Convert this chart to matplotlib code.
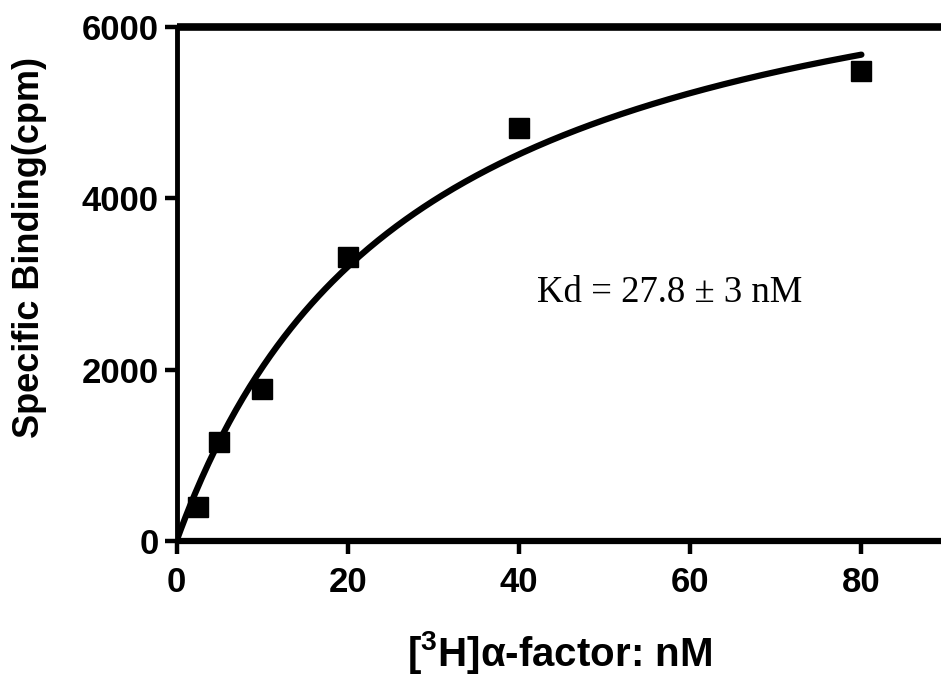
import numpy as np
import matplotlib
matplotlib.use("Agg")
import matplotlib.pyplot as plt

# Data
conc_nM = [2.5, 5, 10, 20, 40, 80]
binding_cpm = [400, 1150, 1780, 3310, 4820, 5485]

# One-site binding fit parameters (Kd from the annotation, Bmax estimated)
kd_nM = 27.8
bmax_cpm = 7650

x_ticks = [0, 20, 40, 60, 80]
y_ticks = [0, 2000, 4000, 6000]

plt.rcParams['mathtext.default'] = 'regular'

W, H = 941, 684
fig = plt.figure(figsize=(W / 100, H / 100), dpi=100)
x0, x1 = 176.5, 947.0
y0, y1 = 541.0, 27.0
ax = fig.add_axes([x0 / W, 1 - y0 / H, (x1 - x0) / W, (y0 - y1) / H])

xfit = np.linspace(0, 80, 300)
yfit = bmax_cpm * xfit / (kd_nM + xfit)
ax.plot(xfit, yfit, color='black', lw=4.5, solid_capstyle='round', zorder=3)
ax.plot(conc_nM, binding_cpm, 's', color='black', markersize=15, zorder=4)

ax.set_xlim(0, 90)
ax.set_ylim(0, 6000)
ax.set_xticks(x_ticks)
ax.set_yticks(y_ticks)

ax.spines['right'].set_visible(False)
ax.spines['left'].set_linewidth(3.5)
ax.spines['bottom'].set_linewidth(4.5)
ax.spines['top'].set_linewidth(5.5)
for s in ax.spines.values():
    s.set_capstyle('butt')

ax.tick_params(axis='both', direction='out', length=9, width=3.2, color='black')
ax.tick_params(axis='x', pad=9)
ax.tick_params(axis='y', pad=4)
for lab in ax.get_xticklabels() + ax.get_yticklabels():
    lab.set_fontfamily('Liberation Sans')
    lab.set_fontweight('bold')
    lab.set_fontsize(25)

fig.text(30 / W, 1 - 248 / H, 'Specific Binding(cpm)', rotation=90,
         ha='center', va='center', fontsize=26, fontweight='bold',
         family='Liberation Sans')
fig.text(560 / W, 1 - 652 / H, '[$^{3}$H]\u03b1-factor: nM',
         ha='center', va='center', fontsize=29, fontweight='bold',
         family='Liberation Sans')
ax.text(57.6, 2900, 'Kd = 27.8 \u00b1 3 nM', ha='center', va='center',
        fontsize=26.5, family='Liberation Serif')

fig.savefig('out.png', dpi=100)
